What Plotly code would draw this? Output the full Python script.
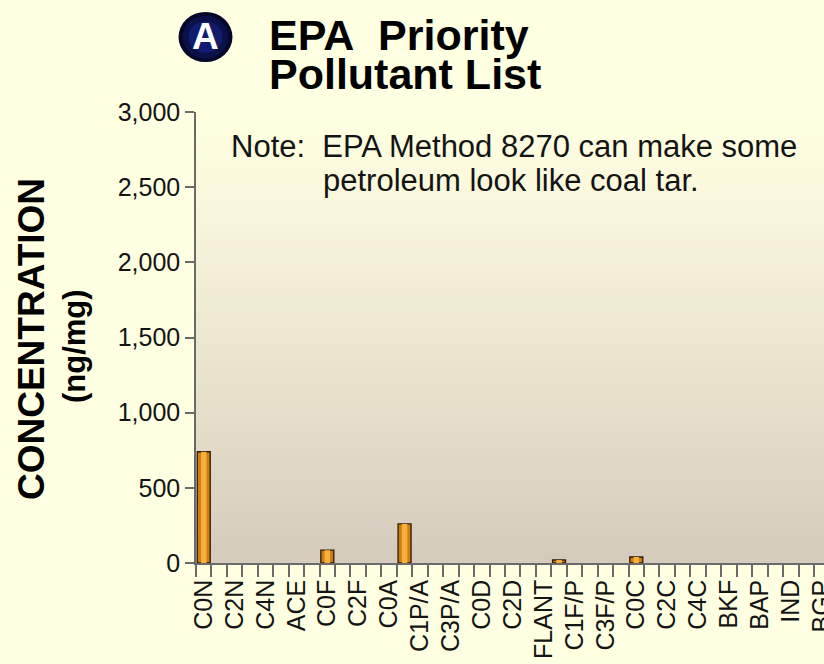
import plotly.graph_objects as go

# PAH analytes in elution/report order (parents and alkyl homologues)
analytes = [
    "C0N", "C1N", "C2N", "C3N", "C4N", "ACY", "ACE", "DBF", "C0F", "C1F",
    "C2F", "C3F", "C0A", "C0P", "C1P/A", "C2P/A", "C3P/A", "C4P/A", "C0D", "C1D",
    "C2D", "C3D", "FLANT", "PYR", "C1F/P", "C2F/P", "C3F/P", "BAA", "C0C", "C1C",
    "C2C", "C3C", "C4C", "BBF", "BKF", "BEP", "BAP", "PER", "IND", "DA", "BGP",
]

# Concentrations reported by EPA Method 8270 (ng/mg)
concentration = [
    740, 0, 0, 0, 0, 0, 0, 0, 85, 0,
    0, 0, 0, 260, 0, 0, 0, 0, 0, 0,
    0, 0, 0, 20, 0, 0, 0, 0, 40, 0,
    0, 0, 0, 0, 0, 0, 0, 0, 0, 0, 0,
]

# every other analyte is labelled on the axis
tick_labels = [name if i % 2 == 0 else "" for i, name in enumerate(analytes)]

y_ticks = [0, 500, 1000, 1500, 2000, 2500, 3000]

W, H = 824, 664
L, R, T, B = 196, 824, 112, 563          # plot area in pixels


def px(x):
    return (x - L) / (R - L)


def py(y):
    return (B - y) / (B - T)


PAGE = "#FFFFE1"
TXT = "#141414"
AXC = "#6A6A6A"
FONT = "Liberation Sans, Arial, Helvetica, sans-serif"

# no outline on empty bars so the axis line stays clean
outline_w = [1.3 if v > 0 else 0 for v in concentration]

fig = go.Figure()

# bar body with dark outline
fig.add_trace(go.Bar(
    x=analytes, y=concentration, width=0.84,
    marker=dict(color="#CD7E12", line=dict(color="#2A1A06", width=outline_w)),
    hoverinfo="x+y",
))
# lighter centre stripe for a rounded look
fig.add_trace(go.Bar(
    x=analytes, y=concentration, width=0.36,
    marker=dict(color="#F8AE3C", line=dict(width=0)),
    hoverinfo="skip",
))

shapes = []
# vertical background gradient inside the plot area
top_rgb = (255, 255, 225)
bot_rgb = (213, 203, 189)
n = 60
for k in range(n):
    t0 = k / n
    t1 = (k + 1) / n
    f = 1 - (t0 + t1) / 2          # 0 at top, 1 at bottom
    f = f ** 1.15
    c = tuple(round(top_rgb[j] + (bot_rgb[j] - top_rgb[j]) * f) for j in range(3))
    shapes.append(dict(
        type="rect", xref="paper", yref="paper", x0=0, x1=1,
        y0=t0, y1=t1 + 0.002, layer="below", line=dict(width=0),
        fillcolor="rgb(%d,%d,%d)" % c,
    ))

# round badge behind the panel letter
for r, col in [(27, "#05072A"), (23, "#0A1048"), (17, "#121C6E")]:
    shapes.append(dict(
        type="circle", xref="paper", yref="paper",
        x0=px(205.5 - r), x1=px(205.5 + r), y0=py(37 + r * 0.93), y1=py(37 - r * 0.93),
        fillcolor=col, line=dict(width=0), layer="above",
    ))

annotations = [
    dict(text="<b>A</b>", x=px(205.5), y=py(36), xref="paper", yref="paper",
         showarrow=False, xanchor="center", yanchor="middle",
         font=dict(family=FONT, size=37, color="#FFFFFF")),
    dict(text="<b>EPA\u00a0 Priority</b>", x=px(267), y=py(35), xref="paper", yref="paper",
         showarrow=False, xanchor="left", yanchor="middle",
         font=dict(family=FONT, size=43, color="#000000")),
    dict(text="<b>Pollutant List</b>", x=px(267), y=py(74), xref="paper", yref="paper",
         showarrow=False, xanchor="left", yanchor="middle",
         font=dict(family=FONT, size=43, color="#000000")),
    dict(text="Note:\u00a0 EPA Method 8270 can make some", x=px(229), y=py(146),
         xref="paper", yref="paper", showarrow=False, xanchor="left", yanchor="middle",
         font=dict(family=FONT, size=31, color=TXT)),
    dict(text="petroleum look like coal tar.", x=px(321), y=py(180),
         xref="paper", yref="paper", showarrow=False, xanchor="left", yanchor="middle",
         font=dict(family=FONT, size=31, color=TXT)),
    dict(text="<b>CONCENTRATION</b>", x=px(31), y=py(339), xref="paper", yref="paper",
         showarrow=False, textangle=-90, xanchor="center", yanchor="middle",
         font=dict(family=FONT, size=37, color="#000000")),
    dict(text="<b>(ng/mg)</b>", x=px(74), y=py(346), xref="paper", yref="paper",
         showarrow=False, textangle=-90, xanchor="center", yanchor="middle",
         font=dict(family=FONT, size=31, color="#000000")),
]

fig.update_layout(
    width=W, height=H,
    margin=dict(l=L, r=W - R, t=T, b=H - B, pad=0),
    paper_bgcolor=PAGE, plot_bgcolor=PAGE,
    barmode="overlay", bargap=0.16,
    showlegend=False,
    shapes=shapes, annotations=annotations,
    font=dict(family=FONT, color=TXT),
    xaxis=dict(
        type="category", categoryorder="array", categoryarray=analytes,
        range=[-0.5, 40.15], tickmode="array", tickvals=analytes, ticktext=tick_labels,
        tickson="boundaries", ticks="outside", ticklen=12, tickwidth=1.5, tickcolor=AXC,
        tickangle=-90, ticklabelstandoff=5,
        tickfont=dict(family=FONT, size=25, color=TXT),
        showline=True, linecolor=AXC, linewidth=1.5, showgrid=False, zeroline=False,
        automargin=False, fixedrange=True,
    ),
    yaxis=dict(
        range=[0, 3000], tickmode="array", tickvals=y_ticks, tickformat=",d",
        ticks="outside", ticklen=9, tickwidth=1.5, tickcolor=AXC,
        tickfont=dict(family=FONT, size=25, color=TXT),
        showline=True, linecolor=AXC, linewidth=1.5, showgrid=False, zeroline=False,
        automargin=False, fixedrange=True,
    ),
)

fig.write_html("out.html")
